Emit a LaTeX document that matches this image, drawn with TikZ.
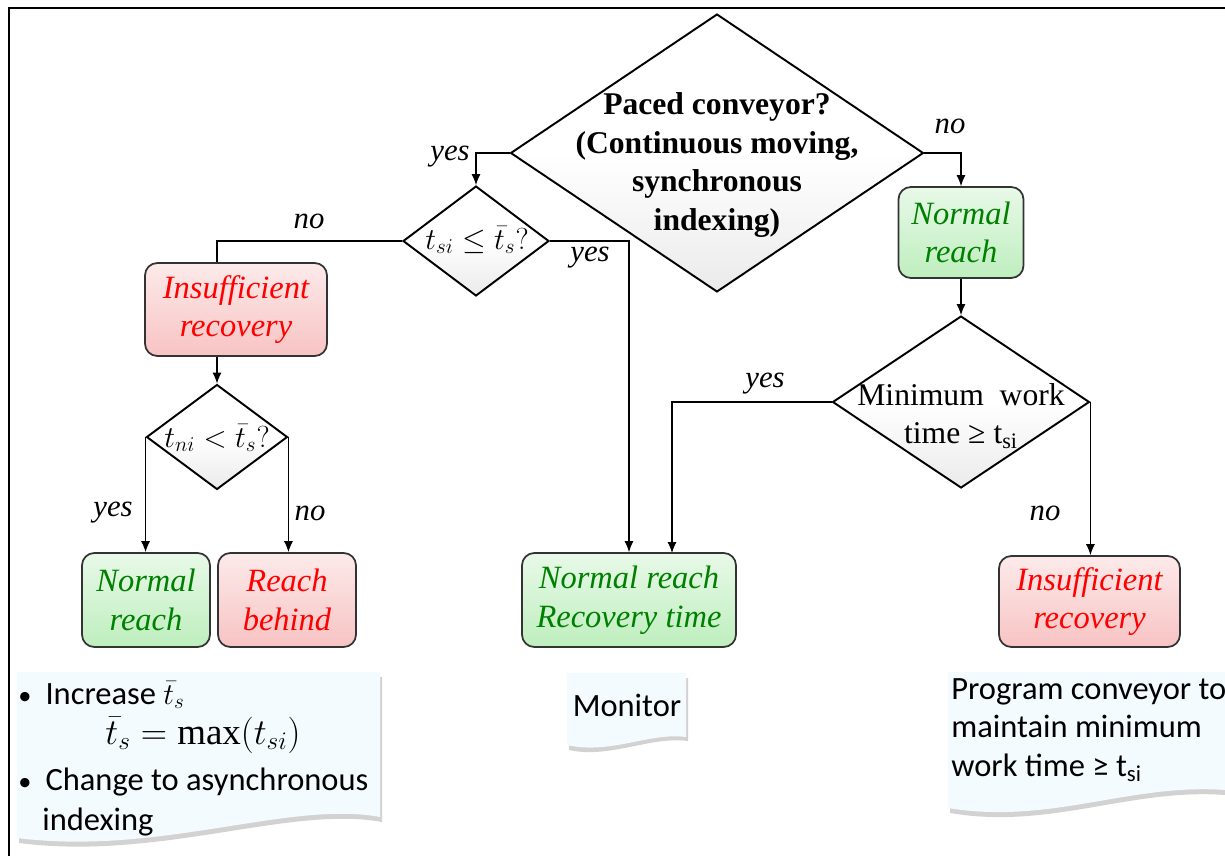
\documentclass[tikz,border=0pt]{standalone}
\usepackage{fontspec}
\setmainfont{Liberation Serif}
\newfontfamily\notefont{Carlito}
\usetikzlibrary{shapes.geometric,arrows.meta,calc}
\definecolor{okgreen}{RGB}{0,128,0}
\definecolor{okfill}{RGB}{190,238,190}
\definecolor{badfill}{RGB}{248,195,195}
\definecolor{notefill}{RGB}{244,251,255}
\newcommand{\notebullet}{{\fontsize{15}{15}\selectfont•}\hspace{8pt}}

\begin{document}
\begin{tikzpicture}[x=0.02cm,y=-0.02cm,
  decision/.style={diamond,draw=black,line width=1.1pt,top color=white,bottom color=gray!16,middle color=white,inner sep=0pt},
  okbox/.style={rectangle,rounded corners=7pt,draw=black!80,line width=1pt,top color=okfill!35,bottom color=okfill,text=okgreen,font=\fontsize{18.5}{22}\selectfont\itshape,align=center,inner sep=0pt},
  badbox/.style={okbox,top color=badfill!35,bottom color=badfill,text=red},
  ans/.style={font=\fontsize{17.5}{20}\selectfont\itshape},
  link/.style={line width=0.6pt},
  arr/.style={link,-{Latex[length=2.2mm,width=1.8mm]}},
  notetext/.style={font=\notefont\fontsize{18.5}{22}\selectfont,inner sep=0pt}]
\useasboundingbox (0,0) rectangle (1225,856);

% notes
\fill[gray!35] (19,677) -- (382,677) -- (382,822) .. controls (290,805) and (160,861) .. (19,843) -- cycle;
\fill[notefill] (17,672) -- (380,672) -- (380,817) .. controls (290,800) and (160,856) .. (17,838) -- cycle;
\fill[gray!35] (569,678) -- (688,678) -- (688,741) .. controls (650,736) and (610,759) .. (569,750) -- cycle;
\fill[notefill] (567,673) -- (686,673) -- (686,737) .. controls (650,732) and (610,755) .. (567,745) -- cycle;
\fill[gray!35] (950,677) -- (1225,677) -- (1225,795) .. controls (1130,788) and (1050,830) .. (950,813) -- cycle;
\fill[notefill] (948,672) -- (1225,672) -- (1225,790) .. controls (1130,783) and (1050,825) .. (948,808) -- cycle;

\draw[line width=1.2pt] (9,856) -- (9,8) -- (1225,8);

% decisions
\node[decision,minimum width=8.26cm,minimum height=5.56cm] (paced) at (717,153) {};
\node[font=\fontsize{18}{22}\selectfont\bfseries,align=center] (pacedt) at (717,165) {Paced conveyor?\\(Continuous moving,\\synchronous\\indexing)};
\node[decision,minimum width=2.92cm,minimum height=2.2cm] (tsi) at (476,241) {};
\node[font=\fontsize{18}{20}\selectfont] (tsit) at (477,240) {$t_{si}\leq\bar{t}_s?$};
\node[decision,minimum width=2.82cm,minimum height=2.1cm] (tni) at (217,437) {};
\node[font=\fontsize{18}{20}\selectfont] (tnit) at (217,438) {$t_{ni}<\bar{t}_s?$};
\node[decision,minimum width=5.14cm,minimum height=3.44cm] (minw) at (961,402) {};
\node[font=\fontsize{18}{22}\selectfont,align=center] (minwt) at (961,416) {Minimum\ \ work\\time ≥ t\textsubscript{si}};

% outcomes
\node[badbox,minimum width=3.64cm,minimum height=1.86cm] (insuf1) at (236,309.5) {Insufficient\\recovery};
\node[okbox,minimum width=2.56cm,minimum height=1.88cm] (reach1) at (146,600) {Normal\\reach};
\node[badbox,minimum width=2.76cm,minimum height=1.88cm] (behind) at (287,600) {Reach\\behind};
\node[okbox,minimum width=4.28cm,minimum height=1.88cm] (recov) at (629,600) {Normal reach\\Recovery time};
\node[okbox,minimum width=2.5cm,minimum height=1.82cm] (reach2) at (961,232.5) {Normal\\reach};
\node[badbox,minimum width=3.62cm,minimum height=1.82cm] (insuf2) at (1089.5,601.5) {Insufficient\\recovery};
\coordinate (recovin) at (672,553);

\draw[arr] (paced.west) -| (tsi.north);
\draw[arr] (paced.east) -| (reach2.north);
\draw[link] (tsi.west) -| (insuf1.north -| tni.north);
\draw[arr] (tsi.east) -| (recov.north);
\draw[arr] (insuf1.south -| tni.north) -- (tni.north);
\draw[arr] (tni.west) -- (tni.west |- reach1.north);
\draw[arr] (tni.east) -- (tni.east |- behind.north);
\draw[arr] (reach2.south) -- (minw.north);
\draw[arr] (minw.west) -| (recovin);
\draw[arr] (minw.east) -- (minw.east |- insuf2.north);

\node[ans] (yes1) at (450,157) {yes};
\node[ans] (no1) at (950,126) {no};
\node[ans] (no2) at (309,221) {no};
\node[ans] (yes2) at (590,258) {yes};
\node[ans] (yes3) at (113,513) {yes};
\node[ans] (no3) at (310,513) {no};
\node[ans] (yes4) at (765,384) {yes};
\node[ans] (no4) at (1045,513) {no};

% note texts
\node[notetext,anchor=west] (fix1) at (18,695) {\notebullet Increase $\bar{t}_s$};
\node[notetext,font=\notefont\fontsize{21}{22}\selectfont] (fix2) at (203,735) {$\bar{t}_s=\max(t_{si})$};
\node[notetext,anchor=west] (fix3) at (18,782) {\notebullet Change to asynchronous};
\node[notetext,anchor=west] (fix4) at (42,822) {indexing};
\node[notetext] (monit) at (627,705) {Monitor};
\node[notetext,anchor=north west,align=left] (prog) at (951,678) {Program conveyor to\\maintain minimum\\work time ≥ t\textsubscript{si}};
\end{tikzpicture}
\end{document}
